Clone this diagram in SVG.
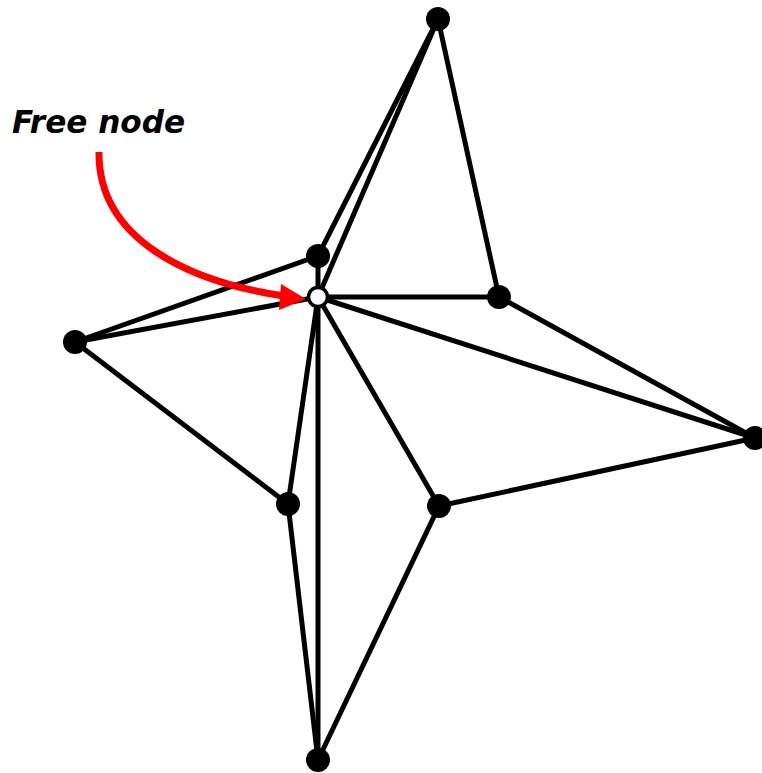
<svg xmlns="http://www.w3.org/2000/svg" width="762" height="773" viewBox="0 0 762 773">
<style>
.e{stroke:#000;stroke-width:5;fill:none;stroke-linecap:round}
.n{fill:#000}
.lbl{font-family:"DejaVu Sans",sans-serif;font-weight:bold;font-style:italic;font-size:32px;fill:#000}
</style>
<rect width="762" height="773" fill="#fff"/>
<g id="connectors">
<line class="e" x1="438" y1="19" x2="318" y2="256"/>
<line class="e" x1="438" y1="19" x2="318" y2="297"/>
<line class="e" x1="438" y1="19" x2="499" y2="297"/>
<line class="e" x1="318" y1="256" x2="75" y2="342"/>
<line class="e" x1="318" y1="256" x2="318" y2="297"/>
<line class="e" x1="318" y1="297" x2="75" y2="342"/>
<line class="e" x1="318" y1="297" x2="499" y2="297"/>
<line class="e" x1="318" y1="297" x2="755" y2="438"/>
<line class="e" x1="318" y1="297" x2="288" y2="504"/>
<line class="e" x1="318" y1="297" x2="318" y2="760"/>
<line class="e" x1="318" y1="297" x2="439" y2="506"/>
<line class="e" x1="499" y1="297" x2="755" y2="438"/>
<line class="e" x1="755" y1="438" x2="439" y2="506"/>
<line class="e" x1="439" y1="506" x2="318" y2="760"/>
<line class="e" x1="75" y1="342" x2="288" y2="504"/>
<line class="e" x1="288" y1="504" x2="318" y2="760"/>
</g>
<g id="arrow">
<path d="M99,152 C98,240 190,282 284,296" stroke="#ff0000" stroke-width="7" fill="none"/>
<polygon points="281,284 306,299 279,310" fill="#ff0000"/>
</g>
<g id="node-top"><circle class="n" cx="438" cy="19" r="12"/></g>
<g id="node-a"><circle class="n" cx="318" cy="256" r="12"/></g>
<g id="node-b"><circle class="n" cx="499" cy="297" r="12"/></g>
<g id="node-left"><circle class="n" cx="75" cy="342" r="12"/></g>
<g id="node-right"><circle class="n" cx="755" cy="438" r="12"/></g>
<g id="node-e"><circle class="n" cx="288" cy="504" r="12"/></g>
<g id="node-f"><circle class="n" cx="439" cy="506" r="12"/></g>
<g id="node-bottom"><circle class="n" cx="318" cy="760" r="12"/></g>
<g id="node-free"><circle cx="318" cy="297" r="9.5" fill="#fff" stroke="#000" stroke-width="3.5"/></g>
<g id="label"><text class="lbl" x="12" y="133" textLength="173" lengthAdjust="spacingAndGlyphs">Free node</text></g>
</svg>
